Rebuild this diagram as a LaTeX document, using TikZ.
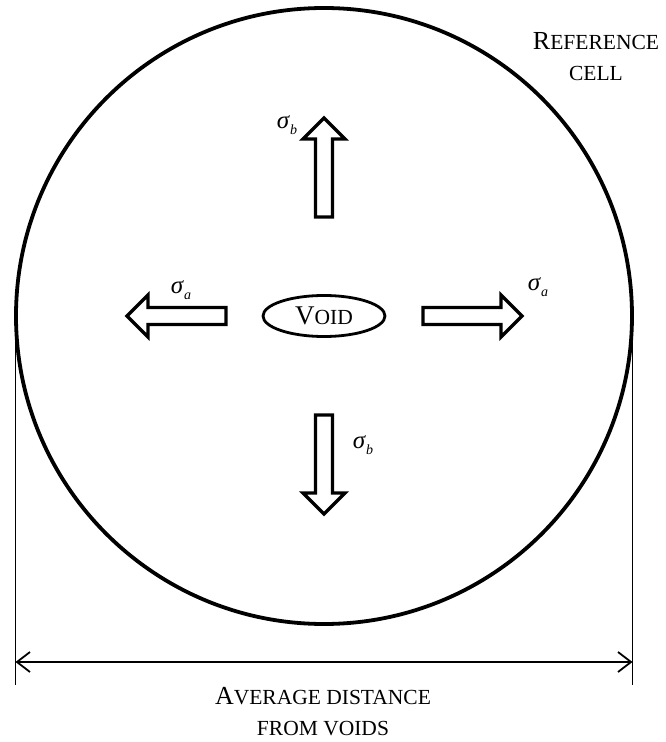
\documentclass[tikz,border=0pt]{standalone}
\usepackage{fontspec}
\setmainfont{Liberation Serif}
\usetikzlibrary{arrows.meta,shapes.geometric}
\newcommand{\capsc}[2]{#1{\fontsize{21.5}{26}\selectfont #2}}
\newcommand{\stress}[1]{\textit{σ}\raisebox{-0.5ex}{\fontsize{14}{14}\selectfont\textit{#1}}}
\tikzset{
  fatarrow/.pic={\draw[line width=3.2pt,line join=miter,fill=white] (0,-8.5) -- (78,-8.5) -- (78,-21) -- (99,0) -- (78,21) -- (78,8.5) -- (0,8.5) -- cycle;},
  caption/.style={font=\fontsize{26}{31}\selectfont,align=center},
  sigmalabel/.style={font=\fontsize{25}{25}\selectfont}
}
\begin{document}
\begin{tikzpicture}[x=1pt,y=1pt]
            \useasboundingbox (-324,-426) rectangle (341,316);
            \draw[line width=3.8pt] (0,0) circle (308);
            \node[ellipse,draw,line width=2.8pt,minimum width=122,minimum height=41,inner sep=0pt,font=\fontsize{27}{27}\selectfont] (void) at (0,0) {\capsc{V}{OID}};
            \pic (up) at (0,99) [rotate=90] {fatarrow};
            \pic (down) at (0,-99) [rotate=-90] {fatarrow};
            \pic (left) at (-98,0) [rotate=180] {fatarrow};
            \pic (right) at (99,0) {fatarrow};
            \node[sigmalabel] (sbup) at (-37,191) {\stress{b}};
            \node[sigmalabel] (sbdown) at (39,-129) {\stress{b}};
            \node[sigmalabel] (saleft) at (-143,26) {\stress{a}};
            \node[sigmalabel] (saright) at (214,29) {\stress{a}};
            \node[caption] (cell) at (272,259) {\capsc{R}{EFERENCE}\\\capsc{}{CELL}};
            % dimension line
            \coordinate (ltop) at (-308.5,0);
            \coordinate (lbot) at (-308.5,-369);
            \coordinate (rtop) at (308.5,0);
            \coordinate (rbot) at (308.5,-369);
            \draw[line width=1.4pt] (ltop) -- (lbot);
            \draw[line width=1.4pt] (rtop) -- (rbot);
            \coordinate (dl) at (-308.5,-346);
            \coordinate (dr) at (308.5,-346);
            \draw[line width=1.8pt,{Straight Barb[length=13,width=20]}-{Straight Barb[length=13,width=20]}] (dl) -- (dr);
            \node[caption] (dist) at (-1,-396) {\capsc{A}{VERAGE DISTANCE}\\\capsc{}{FROM VOIDS}};
        \end{tikzpicture}
\end{document}
